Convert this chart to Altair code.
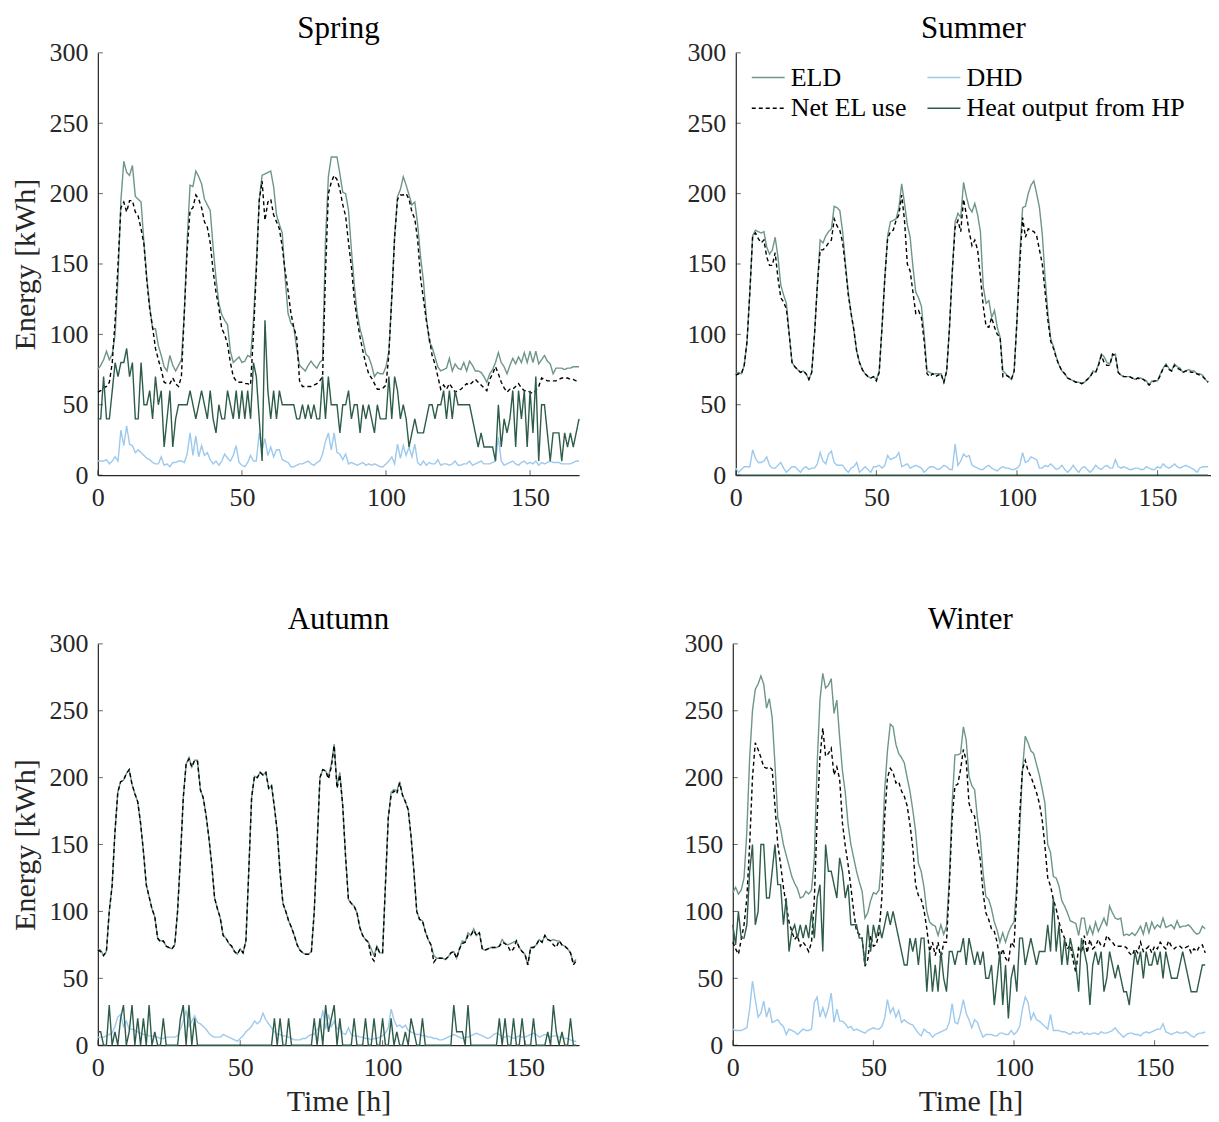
import altair as alt
import pandas as pd

SERIES = ["ELD", "DHD", "Net EL use", "Heat output from HP"]
COLORS = ["#6E9686", "#9DC9EC", "#000000", "#2D5C48"]
DASHES = [[1, 0], [1, 0], [4, 3], [1, 0]]
Y_TICKS = [0, 50, 100, 150, 200, 250, 300]
X_TICKS = [0, 50, 100, 150]
FONT = "Liberation Serif"
AXIS = "#262626"

# ---------------- Spring ----------------
spring_eld = [75,78,82,88,82,86,100,140,195,223,
 215,213,220,198,196,194,165,140,120,104,
 104,92,85,77,74,85,78,74,78,82,
 115,167,206,205,216,212,207,196,192,188,
 162,140,122,114,110,107,88,80,82,84,
 80,81,85,84,110,150,195,213,214,215,
 216,205,185,178,172,140,115,108,105,90,
 78,76,74,78,81,78,76,80,82,167,
 212,226,226,226,214,201,200,188,160,135,
 115,104,96,86,84,78,70,73,72,72,
 77,88,126,170,198,203,212,206,199,192,
 194,178,155,138,112,95,91,84,77,74,
 75,76,83,74,79,76,75,80,74,81,
 78,74,74,73,70,66,72,75,80,87,
 80,77,72,78,83,79,84,80,87,80,
 88,80,88,79,82,85,81,79,72,76,
 76,76,75,76,76,77,77,77]
spring_net = [59,60,62,63,66,80,110,150,190,194,
 187,195,195,187,184,175,164,138,118,105,
 90,82,75,66,65,65,69,65,63,70,
 115,160,188,190,199,196,190,180,176,165,
 145,130,119,104,100,93,80,70,67,66,
 66,65,65,64,100,145,195,209,181,194,
 196,185,180,175,162,145,131,115,105,98,
 67,63,63,63,63,64,65,67,70,143,
 200,208,213,210,203,192,184,165,148,125,
 110,98,88,79,72,69,65,61,61,62,
 64,86,126,169,196,199,199,200,196,187,
 182,167,140,125,110,98,85,79,70,61,
 64,61,65,62,59,60,61,63,65,64,
 66,68,66,64,62,60,68,72,77,72,
 66,62,59,61,61,63,65,62,60,60,
 59,58,60,63,69,68,67,67,67,67,
 68,69,69,69,68,68,67,66]
spring_hp = [40,40,70,40,40,60,80,70,80,80,
 90,70,80,40,40,80,50,50,60,40,
 70,50,60,20,40,60,20,40,50,50,
 50,50,60,50,40,50,60,50,40,60,
 40,30,50,40,40,60,50,40,60,40,
 60,40,60,40,80,70,40,10,110,60,
 40,60,40,60,50,50,50,50,50,40,
 40,50,40,50,40,50,40,40,70,40,
 70,50,50,50,30,50,50,60,40,50,
 50,30,50,40,50,40,30,50,40,40,
 40,70,40,70,60,40,50,40,20,30,
 40,30,30,30,40,50,50,40,50,50,
 60,40,60,40,60,50,50,50,50,50,
 40,30,20,30,20,20,20,20,10,50,
 20,40,30,40,60,20,60,40,60,20,
 60,30,70,10,50,50,30,10,30,30,
 30,10,30,20,30,20,30,40]
spring_dhd = [10,10,10,11,8,10,13,10,32,21,
 35,22,21,16,18,16,14,12,11,9,
 8,8,13,7,8,6,9,9,10,10,
 9,15,30,14,28,13,21,14,16,11,
 8,10,7,10,15,12,10,14,21,9,
 7,6,9,14,10,10,30,18,26,14,
 20,13,18,18,11,10,9,6,6,7,
 8,8,9,10,8,7,9,10,15,24,
 30,18,30,16,15,11,15,8,9,8,
 7,8,9,7,8,7,8,7,6,6,
 8,10,13,8,22,12,21,14,20,13,
 22,9,7,10,7,9,8,8,11,7,
 8,8,7,8,10,7,7,8,8,10,
 7,8,9,10,8,8,8,9,10,27,
 10,7,8,9,10,8,7,9,10,8,
 9,8,10,7,9,8,9,10,9,9,
 9,8,8,8,8,9,10,10]

# ---------------- Summer ----------------
summer_eld = [72,73,72,78,95,130,170,174,173,172,
 173,162,157,160,169,155,135,128,122,100,
 80,77,75,73,74,72,68,73,100,135,
 167,165,170,173,175,191,190,188,173,150,
 130,115,103,88,80,75,72,70,69,70,
 68,74,105,140,170,180,181,182,190,207,
 193,178,169,148,130,126,120,100,74,73,
 72,72,72,72,66,74,105,145,180,186,
 183,208,198,190,187,193,185,173,134,122,
 124,112,117,105,98,74,72,70,68,74,
 110,157,190,191,200,206,209,200,190,171,
 140,115,97,91,84,78,74,72,69,68,
 67,66,66,65,66,68,70,74,73,79,
 86,84,80,79,85,86,73,71,70,70,
 70,69,68,69,69,68,67,64,67,67,
 67,72,76,79,76,74,79,77,76,73,
 74,75,74,74,72,72,71,68,66]
summer_net = [71,72,72,78,95,130,170,172,168,165,
 167,155,149,149,158,140,126,123,118,100,
 80,77,75,73,74,72,68,73,100,135,
 160,160,162,165,167,182,177,174,165,148,
 128,115,103,88,80,75,72,70,69,70,
 67,73,105,140,168,173,174,181,185,199,
 181,150,145,130,115,117,112,95,72,70,
 72,70,71,72,66,74,105,145,176,181,
 173,196,185,173,163,167,160,141,120,106,
 105,112,105,100,98,70,71,70,68,74,
 110,150,183,169,175,174,173,170,160,150,
 130,110,95,90,83,78,74,72,69,68,
 67,66,66,65,66,68,70,73,73,78,
 85,80,78,78,86,85,73,71,70,70,
 70,69,68,69,68,68,66,64,66,67,
 67,71,76,78,75,74,78,76,75,73,
 74,74,73,73,72,71,70,68,66]
summer_hp = [0,0,0,0,0,0,0,0,0,0,
 0,0,0,0,0,0,0,0,0,0,
 0,0,0,0,0,0,0,0,0,0,
 0,0,0,0,0,0,0,0,0,0,
 0,0,0,0,0,0,0,0,0,0,
 0,0,0,0,0,0,0,0,0,0,
 0,0,0,0,0,0,0,0,0,0,
 0,0,0,0,0,0,0,0,0,0,
 0,0,0,0,0,0,0,0,0,0,
 0,0,0,0,0,0,0,0,0,0,
 0,0,0,0,0,0,0,0,0,0,
 0,0,0,0,0,0,0,0,0,0,
 0,0,0,0,0,0,0,0,0,0,
 0,0,0,0,0,0,0,0,0,0,
 0,0,0,0,0,0,0,0,0,0,
 0,0,0,0,0,0,0,0,0,0,
 0,0,0,0,0,0,0,0,0]
summer_dhd = [5,2,4,6,6,6,18,12,9,9,
 10,13,7,5,5,7,9,5,2,4,
 6,6,4,2,5,6,4,5,5,8,
 16,10,8,15,17,9,7,7,7,4,
 2,5,6,9,2,4,6,4,2,6,
 6,7,5,7,14,11,12,13,16,6,
 7,8,5,6,7,6,5,2,4,6,
 6,5,4,5,7,6,4,4,22,7,
 10,15,13,14,7,6,5,4,4,6,
 7,5,4,3,5,6,5,5,4,4,
 5,7,16,9,10,13,12,11,5,5,
 7,6,8,6,4,5,7,4,2,4,
 7,4,2,5,6,4,2,4,7,5,
 4,6,7,5,5,11,6,5,6,5,
 4,4,5,5,4,4,6,5,4,4,
 6,5,8,6,5,6,8,6,5,6,
 7,6,5,4,2,5,6,6,6]

# ---------------- Autumn ----------------
autumn_eld = [72,71,67,70,100,119,159,189,197,198,
 203,206,195,188,182,166,145,120,111,102,
 96,80,78,78,74,73,72,75,100,140,
 185,210,215,208,213,213,191,185,172,155,
 135,110,102,95,82,80,76,74,70,68,
 72,69,78,130,185,201,200,204,202,204,
 192,194,178,160,129,106,100,93,88,82,
 75,71,69,68,68,70,100,150,200,206,
 205,201,210,225,194,204,179,141,109,106,
 104,99,88,82,79,77,72,67,74,69,
 69,120,170,189,191,190,197,187,182,176,
 156,130,100,94,93,85,79,75,67,65,
 65,65,64,66,69,70,65,72,78,77,
 84,82,87,82,84,72,71,72,73,73,
 73,74,79,76,75,76,77,78,73,70,
 68,60,73,73,75,79,77,82,79,78,
 79,78,78,75,74,72,69,62,64]
autumn_net = [71,70,67,70,100,119,159,189,197,198,
 203,206,195,188,182,166,145,120,111,102,
 96,80,77,78,74,73,72,75,100,140,
 185,210,214,208,213,212,191,185,172,155,
 135,110,102,95,82,80,76,74,70,68,
 72,69,78,130,185,201,200,204,202,204,
 192,194,178,160,129,106,100,93,88,82,
 75,71,69,68,68,70,100,150,200,206,
 205,199,208,224,192,202,179,141,109,106,
 104,99,88,82,79,77,66,63,74,69,
 69,120,170,187,190,188,196,187,182,176,
 156,130,100,94,93,85,79,75,62,65,
 65,65,64,66,69,70,65,72,76,77,
 82,82,86,82,84,72,71,72,73,73,
 73,74,77,76,74,70,72,78,73,70,
 68,60,73,73,75,79,77,82,79,78,
 75,73,78,75,74,72,69,60,63]
autumn_hp = [10,10,0,0,30,0,10,0,20,30,
 0,10,30,0,20,0,20,0,30,0,
 10,0,0,20,0,0,0,0,0,20,
 30,0,30,0,20,0,0,0,0,0,
 0,0,0,0,0,0,0,0,0,0,
 0,0,0,0,0,0,0,0,0,0,
 0,0,20,0,20,0,0,20,0,0,
 0,0,0,0,0,0,20,0,20,0,
 30,10,20,30,0,20,0,0,0,0,
 20,0,0,0,20,0,0,20,0,0,
 20,0,0,20,0,10,0,0,10,0,
 20,10,0,0,20,0,0,0,0,0,
 0,0,0,0,0,30,10,10,10,0,
 30,0,0,0,0,0,0,0,0,0,
 0,20,0,20,0,0,20,0,0,20,
 0,0,0,20,0,0,0,0,10,0,
 30,10,0,10,0,0,20,0,0]
autumn_dhd = [6,6,6,7,8,9,14,21,23,14,
 18,12,12,11,10,9,8,8,7,7,
 6,6,5,5,6,6,6,6,7,12,
 18,26,14,18,22,17,16,14,12,9,
 7,6,6,6,8,7,6,5,4,3,
 5,7,10,12,14,18,16,18,24,19,
 16,13,10,8,8,7,7,6,5,4,
 4,4,5,5,7,8,8,12,14,26,
 12,23,14,18,12,14,9,8,13,8,
 7,7,6,6,5,5,4,5,5,6,
 7,9,13,27,19,14,15,13,15,11,
 10,9,8,8,7,7,6,6,5,5,
 4,4,5,6,7,8,7,6,5,6,
 6,7,8,9,8,7,6,5,6,8,
 9,8,6,6,7,6,5,6,7,6,
 6,7,8,9,8,6,7,8,7,6,
 7,7,6,6,5,5,4,3,3]

# ---------------- Winter ----------------
winter_eld = [114,118,113,116,125,160,215,250,266,270,
 276,270,252,259,245,210,170,162,150,142,
 134,126,121,117,110,111,115,113,116,140,
 210,258,278,267,269,274,248,258,230,205,
 189,165,150,140,130,122,115,95,99,108,
 114,113,116,140,190,220,240,238,225,218,
 215,211,200,190,176,160,136,130,118,100,
 92,90,89,82,90,83,89,124,180,217,
 217,218,238,228,201,194,191,170,156,129,
 111,109,102,92,86,77,84,77,84,89,
 92,120,160,205,231,226,220,218,210,202,
 192,181,150,144,126,125,119,108,104,99,
 93,92,91,82,95,95,82,89,83,92,
 85,90,95,89,104,99,95,94,95,82,
 83,82,84,82,85,89,83,92,84,92,
 87,90,88,95,88,89,90,87,93,88,
 89,89,90,88,85,83,84,89,87]
winter_net = [77,72,68,79,90,110,150,200,226,221,
 215,208,207,208,206,179,150,135,118,105,
 92,85,79,82,74,77,74,70,77,109,
 170,215,237,216,218,222,202,208,199,166,
 149,135,118,100,85,83,80,59,64,82,
 74,75,84,110,170,200,207,204,196,197,
 190,186,179,165,148,120,112,109,101,87,
 70,77,67,77,64,77,77,119,169,194,
 195,206,221,213,181,174,171,150,139,114,
 99,94,87,85,77,64,72,65,62,77,
 74,114,171,206,213,205,201,195,189,181,
 169,149,125,119,109,102,92,85,80,72,
 75,64,54,74,69,82,69,79,72,74,
 79,74,74,82,79,77,74,74,74,74,
 73,69,67,72,69,77,70,72,74,69,
 74,72,77,74,72,78,74,72,74,74,
 72,73,74,69,72,70,74,75,69]
winter_hp = [90,75,100,80,80,90,130,150,90,100,
 150,150,110,110,130,150,120,120,90,110,
 70,85,90,80,90,80,90,80,100,80,
 110,120,70,150,130,130,120,110,140,130,
 110,120,90,90,90,80,80,60,90,70,
 90,80,90,80,90,100,90,100,90,80,
 70,60,60,80,70,80,60,80,80,40,
 70,40,60,40,70,50,40,70,70,60,
 70,70,80,60,80,70,60,70,60,70,
 50,50,60,30,50,70,30,60,20,50,
 60,40,80,80,60,70,80,70,60,70,
 70,70,90,70,110,70,90,60,80,60,
 80,70,60,40,80,70,60,30,60,70,
 60,70,40,50,70,60,50,60,50,40,
 40,30,50,70,60,70,50,70,60,60,
 70,60,70,50,70,60,50,50,50,60,
 70,60,50,40,40,40,50,60,60]
winter_dhd = [12,11,11,11,12,13,27,48,34,21,
 24,33,21,28,17,18,19,16,14,8,
 12,11,10,8,10,12,11,11,12,32,
 36,21,28,21,28,39,17,27,18,18,
 16,13,14,11,12,11,10,9,11,12,
 13,12,12,14,20,34,24,28,21,26,
 17,19,17,16,15,12,9,7,12,10,
 9,6,8,9,10,11,12,17,31,17,
 16,24,34,24,19,13,19,17,11,6,
 8,8,8,7,7,9,9,8,8,11,
 8,10,14,27,36,32,19,24,19,18,
 16,14,12,23,11,11,11,10,10,9,
 8,10,9,9,10,8,9,8,9,9,
 8,10,9,9,10,11,13,10,8,6,
 8,9,9,8,8,7,9,10,9,10,
 11,12,12,16,10,9,8,9,10,9,
 9,10,9,7,6,8,9,9,10]


def panel(title, eld, dhd, net, hp, xmax, width, height, show_legend, ytitle, xtitle):
    rows = []
    for name, vals in zip(SERIES, [eld, dhd, net, hp]):
        for h, v in enumerate(vals):
            rows.append({"hour": h, "value": v, "series": name})
    df = pd.DataFrame(rows)
    xs = alt.Scale(domain=[0, xmax], nice=False, zero=False)
    ys = alt.Scale(domain=[0, 300], nice=False)
    xaxis = alt.Axis(values=X_TICKS, title=xtitle, labelFlush=False,
                     labelPadding=9, titlePadding=6)
    yaxis = alt.Axis(values=Y_TICKS, title=ytitle, labelFlush=False,
                     labelPadding=10, titlePadding=8)
    if show_legend:
        legend = alt.Legend(
            title=None, orient="none", legendX=15, legendY=7, columns=2,
            direction="horizontal", symbolType="stroke", symbolSize=1089,
            symbolStrokeWidth=1.4, labelFont=FONT, labelFontSize=26,
            labelColor="#000000", labelLimit=0, columnPadding=17,
            rowPadding=0, labelOffset=5,
        )
    else:
        legend = None
    lines = alt.Chart(df).mark_line(strokeWidth=1.4).encode(
        x=alt.X("hour:Q", scale=xs, axis=xaxis),
        y=alt.Y("value:Q", scale=ys, axis=yaxis),
        color=alt.Color("series:N", scale=alt.Scale(domain=SERIES, range=COLORS), legend=legend),
        strokeDash=alt.StrokeDash("series:N", scale=alt.Scale(domain=SERIES, range=DASHES), legend=legend),
    )
    yt = alt.Chart(pd.DataFrame({"value": Y_TICKS})).mark_tick(
        orient="horizontal", size=5, thickness=1, color=AXIS
    ).encode(y=alt.Y("value:Q", scale=ys, axis=yaxis), x=alt.value(2.5))
    xt = alt.Chart(pd.DataFrame({"hour": X_TICKS})).mark_tick(
        orient="vertical", size=5, thickness=1, color=AXIS
    ).encode(x=alt.X("hour:Q", scale=xs, axis=xaxis), y=alt.value(height - 2.5))
    return alt.layer(lines, yt, xt).properties(
        width=width, height=height, title=title
    )


spring = panel("Spring", spring_eld, spring_dhd, spring_net, spring_hp, 167, 482, 423, False, "Energy [kWh]", None)
summer = panel("Summer", summer_eld, summer_dhd, summer_net, summer_hp, 169, 476, 423, True, None, None)
autumn = panel("Autumn", autumn_eld, autumn_dhd, autumn_net, autumn_hp, 169, 482, 402, False, "Energy [kWh]", "Time [h]")
winter = panel("Winter", winter_eld, winter_dhd, winter_net, winter_hp, 169, 476, 402, False, None, "Time [h]")

res = dict(color="independent", strokeDash="independent")
top = alt.hconcat(spring, summer, spacing=105).resolve_scale(**res).resolve_legend(**res)
bottom = alt.hconcat(autumn, winter, spacing=105).resolve_scale(**res).resolve_legend(**res)

chart = alt.vconcat(top, bottom, spacing=94).resolve_scale(**res).resolve_legend(**res).properties(
    padding={"left": 3, "top": 4, "right": 0, "bottom": 0}
).configure(font=FONT).configure_view(stroke=None).configure_axis(
    domainColor=AXIS, domainWidth=1.2, grid=False, ticks=False,
    labelFont=FONT, labelFontSize=26, labelColor=AXIS,
    titleFont=FONT, titleFontSize=30, titleFontWeight="normal", titleColor=AXIS,
).configure_title(
    font=FONT, fontSize=31, fontWeight="normal", color="#000000", offset=-5
)

chart.save("out.html", embed_options={"renderer": "svg", "actions": False})
